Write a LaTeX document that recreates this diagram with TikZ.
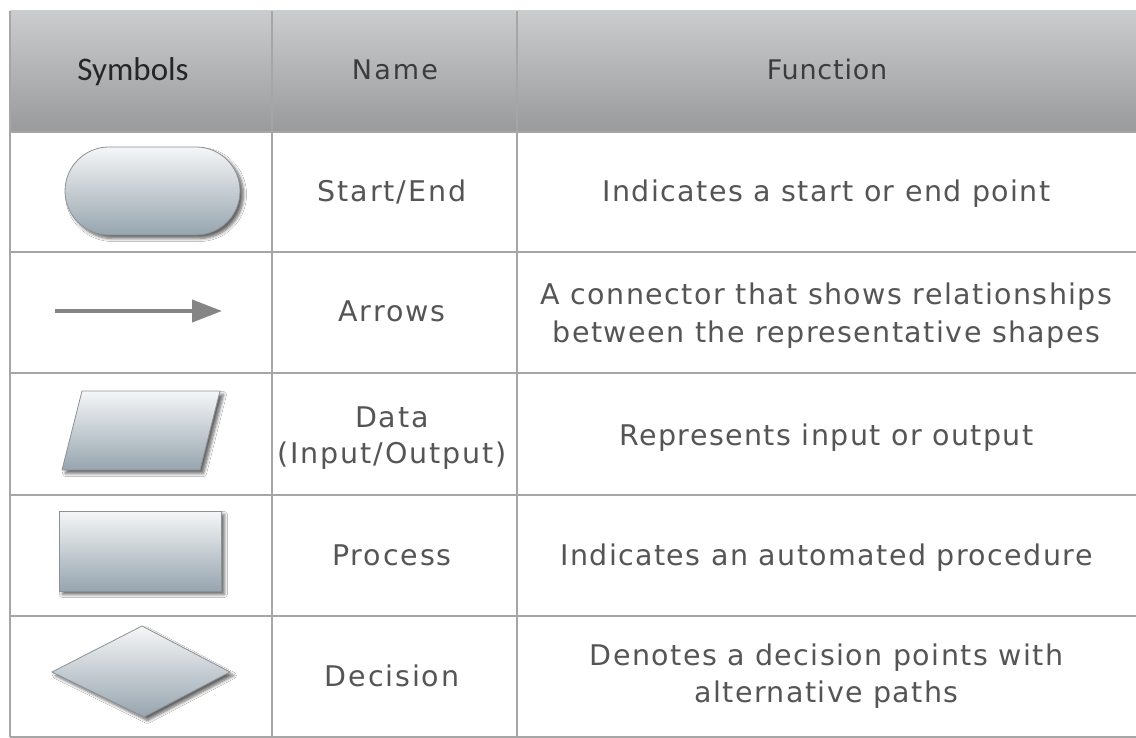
\documentclass[tikz,border=0pt]{standalone}
\usepackage{fontspec}
\setmainfont{DejaVu Sans}
\newfontfamily\calibfont{Carlito}
\newfontfamily\funcfont[LetterSpace=5]{DejaVu Sans}
\newfontfamily\namefont[LetterSpace=6.5]{DejaVu Sans}
\newfontfamily\headnamefont[LetterSpace=8]{DejaVu Sans}
\newfontfamily\headfuncfont[LetterSpace=3]{DejaVu Sans}
\usetikzlibrary{shadows,shadows.blur,shapes.misc,arrows.meta}
\definecolor{gridgray}{HTML}{A6A6A6}
\definecolor{headtop}{HTML}{CBCCCE}
\definecolor{headbot}{HTML}{999A9C}
\definecolor{shapetop}{HTML}{F5F6F7}
\definecolor{shapebot}{HTML}{97A5AF}
\definecolor{shapeline}{HTML}{8C9196}
\definecolor{bodytext}{HTML}{555555}
\definecolor{headtext}{HTML}{3C3C3C}
\definecolor{arrowgray}{HTML}{858585}
\tikzset{
  grid/.style={draw=gridgray, line width=2},
  headband/.style={top color=headtop, bottom color=headbot, draw=none},
  symshape/.style={top color=shapetop, bottom color=shapebot, draw=shapeline, line width=0.8,
    blur shadow={shadow xshift=3.5pt, shadow yshift=-3.5pt, shadow blur radius=3pt, shadow blur steps=6, shadow opacity=60}},
  functxt/.style={text=bodytext, font=\funcfont\fontsize{28.5}{37}\selectfont, anchor=base, inner sep=0},
  nametxt/.style={text=bodytext, font=\namefont\fontsize{28.5}{36}\selectfont, anchor=base, inner sep=0},
  headtxt/.style={text=headtext, inner sep=0, anchor=base},
}
\begin{document}
\begin{tikzpicture}[x=1pt,y=-1pt]
\useasboundingbox[fill=white] (0,0) rectangle (1136,738);
% header band
\path[headband] (10,11) rectangle (1136,132);
% grid lines
\draw[grid] (10,11) -- (10,737);
\draw[grid] (272,11) -- (272,737);
\draw[grid] (517,11) -- (517,737);
\draw[grid] (10,132) -- (1136,132);
\draw[grid] (10,252) -- (1136,252);
\draw[grid] (10,373) -- (1136,373);
\draw[grid] (10,495) -- (1136,495);
\draw[grid] (10,616) -- (1136,616);
\draw[grid] (10,737) -- (1136,737);
% header texts
\node[headtxt, text=black!85, font=\calibfont\fontsize{33}{36}\selectfont] (hsym) at (133,81) {Symbols};
\node[headtxt, font=\headnamefont\fontsize{27}{35}\selectfont] (hname) at (395,80) {Name};
\node[headtxt, font=\headfuncfont\fontsize{27}{35}\selectfont] (hfun) at (827,80) {Function};
% symbols
\node[symshape, rounded rectangle, minimum width=175, minimum height=88, inner sep=0] (startend) at (152.5,191) {};
\coordinate (arrs) at (55,311);
\coordinate (arre) at (222,311);
\draw[arrowgray, line width=4, -{Triangle[length=30,width=22]}] (arrs) -- (arre);
\path[symshape] (82,391) -- (220,391) -- (200,470) -- (62,470) -- cycle;
\path[symshape] (59,511) rectangle (221,591);
\path[symshape] (142,626) -- (230,672) -- (144,717) -- (52,672) -- cycle;
% names
\node[nametxt] (n1) at (392,202) {Start/End};
\node[nametxt] (n2) at (392,322) {Arrows};
\node[nametxt] (n3a) at (392,427) {Data};
\node[nametxt] (n3b) at (392,463) {(Input/Output)};
\node[nametxt] (n4) at (392,565) {Process};
\node[nametxt] (n5) at (392,686) {Decision};
% functions
\node[functxt] (f1) at (826.5,202) {Indicates a start or end point};
\node[functxt] (f2a) at (826.5,305) {A connector that shows relationships};
\node[functxt] (f2b) at (826.5,342) {between the representative shapes};
\node[functxt] (f3) at (826.5,445) {Represents input or output};
\node[functxt] (f4) at (826.5,565) {Indicates an automated procedure};
\node[functxt] (f5a) at (826.5,665) {Denotes a decision points with};
\node[functxt] (f5b) at (826.5,702) {alternative paths};
\end{tikzpicture}
\end{document}
